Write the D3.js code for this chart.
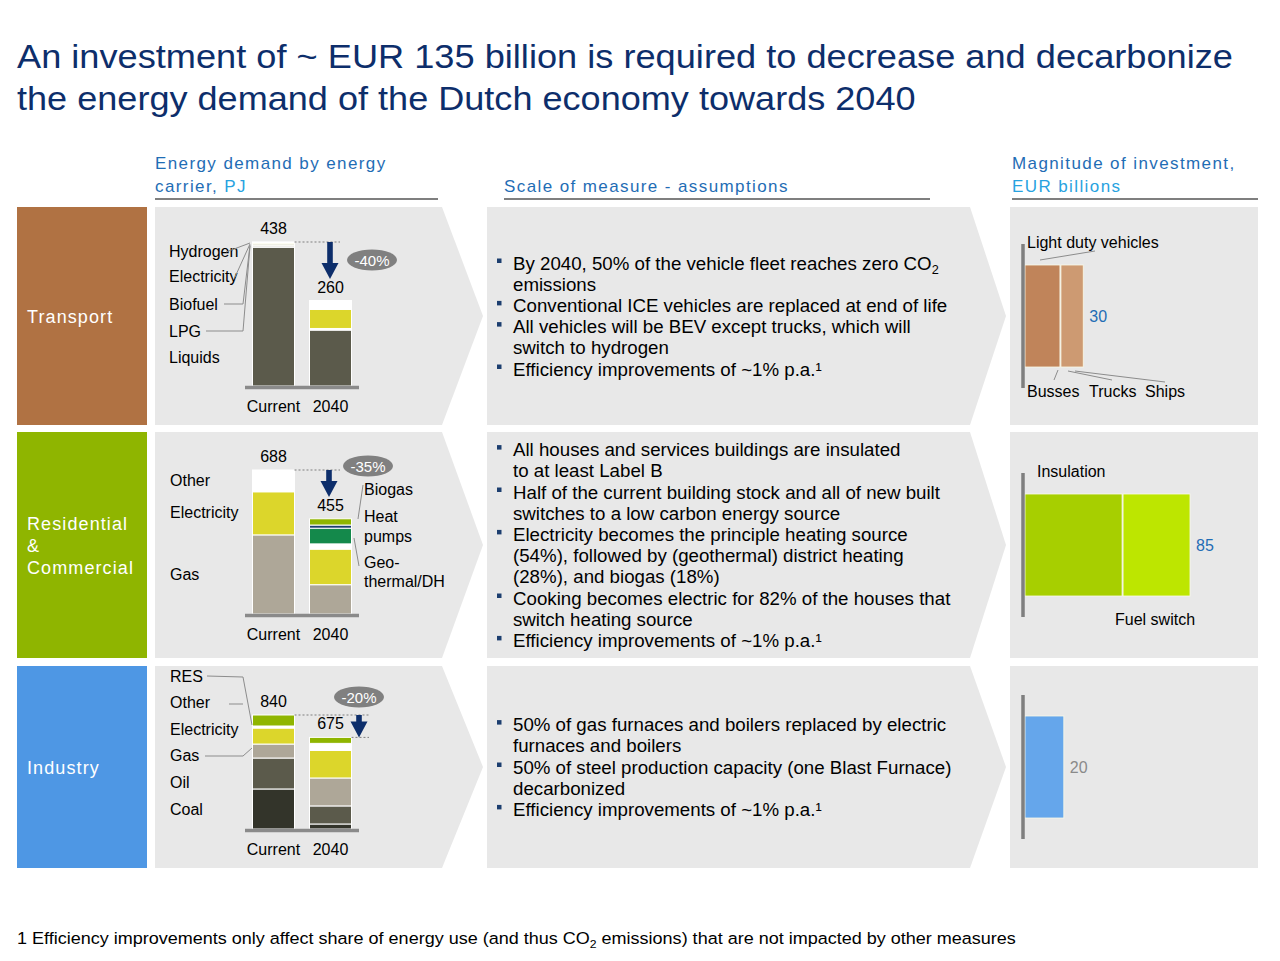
<!DOCTYPE html>
<html>
<head>
<meta charset="utf-8">
<script src="https://cdnjs.cloudflare.com/ajax/libs/d3/7.8.5/d3.min.js"></script>
<style>
body { margin: 0; background: #fff; }
text { font-family: "Liberation Sans", Arial, Helvetica, sans-serif; }
</style>
</head>
<body>
<div id="graph"></div>
<script>
//data
var sectors = ["Transport", "Residential & Commercial", "Industry"];
var periods = ["Current", "2040"];

var transportCarriers = ["Liquids", "LPG", "Biofuel", "Electricity", "Hydrogen"];
var transportCurrent = [422, 4, 8, 3, 1];
var transport2040 = [170, 3, 2, 58, 27];

var residentialCarriers = ["Gas", "Electricity", "Other", "Geo-thermal/DH", "Heat pumps", "Biogas"];
var residentialCurrent = [378, 206, 104, 0, 0, 0];
var residential2040 = [140, 170, 25, 75, 15, 30];

var industryCarriers = ["Coal", "Oil", "Gas", "Electricity", "Other", "RES"];
var industryCurrent = [295, 228, 103, 118, 15, 81];
var industry2040 = [37, 133, 206, 203, 52, 44];

var changeLabels = ["-40%", "-35%", "-20%"];

var transportInvestParts = ["Light duty vehicles", "Busses, Trucks, Ships"];
var transportInvest = [18, 12];
var residentialInvestParts = ["Insulation", "Fuel switch"];
var residentialInvest = [50, 35];
var industryInvestParts = ["Industry"];
var industryInvest = [20];

var transportBullets = [
    ["By 2040, 50% of the vehicle fleet reaches zero CO2", "emissions"],
    ["Conventional ICE vehicles are replaced at end of life"],
    ["All vehicles will be BEV except trucks, which will", "switch to hydrogen"],
    ["Efficiency improvements of ~1% p.a.\u00b9"]
];
var residentialBullets = [
    ["All houses and services buildings are insulated", "to at least Label B"],
    ["Half of the current building stock and all of new built", "switches to a low carbon energy source"],
    ["Electricity becomes the principle heating source", "(54%), followed by (geothermal) district heating", "(28%), and biogas (18%)"],
    ["Cooking becomes electric for 82% of the houses that", "switch heating source"],
    ["Efficiency improvements of ~1% p.a.\u00b9"]
];
var industryBullets = [
    ["50% of gas furnaces and boilers replaced by electric", "furnaces and boilers"],
    ["50% of steel production capacity (one Blast Furnace)", "decarbonized"],
    ["Efficiency improvements of ~1% p.a.\u00b9"]
];

//layout
var width = 1280;
var height = 961;
var rowTop = [207, 432, 666];
var rowBottom = [425, 658, 868];
var chartBase = [386, 614, 829];
var chartMaxHeight = [144, 144, 114];
var sectorColors = ["#b07243", "#8fb500", "#4e97e4"];
var panelColor = "#e8e8e8";
var navy = "#0d2e6b";
var blue = "#1f6db5";
var lightBlue = "#28a2df";

var carrierColors = {
    "Liquids": "#5b5a4b", "LPG": "#9b998b", "Biofuel": "#efefe4", "Electricity": "#dcd62b",
    "Hydrogen": "#ffffff", "Gas": "#aea798", "Other": "#ffffff", "Geo-thermal/DH": "#14894b",
    "Heat pumps": "#1c3e6f", "Biogas": "#8fb500", "Coal": "#33342a", "Oil": "#5b5a4b", "RES": "#8fb500"
};

var svg = d3.select("#graph").append("svg")
    .attr("width", width)
    .attr("height", height);

// title (stretched to the width it has in the slide)
var titleLines = ["An investment of ~ EUR 135 billion is required to decrease and decarbonize",
    "the energy demand of the Dutch economy towards 2040"];
var titleWidths = [1216, 899];
svg.selectAll(".title")
    .data(titleLines)
    .enter().append("text")
    .attr("class", "title")
    .attr("font-size", 34)
    .attr("fill", navy)
    .text(function (d) { return d; })
    .attr("transform", function (d, i) {
        var len = this.getComputedTextLength();
        return "translate(17," + (68 + i * 42) + ") scale(" + (titleWidths[i] / len) + ",1)";
    });

// column headers
function header(x, x2, lines) {
    lines.forEach(function (parts, i) {
        var t = svg.append("text")
            .attr("x", x)
            .attr("y", 192 - (lines.length - 1 - i) * 23)
            .attr("font-size", 17)
            .attr("letter-spacing", 1.4);
        parts.forEach(function (p) {
            t.append("tspan").attr("fill", p[1]).text(p[0]);
        });
    });
    svg.append("line")
        .attr("x1", x).attr("x2", x2)
        .attr("y1", 199).attr("y2", 199)
        .attr("stroke", "#7f7f7f")
        .attr("stroke-width", 2);
}
header(155, 438, [[["Energy demand by energy", blue]], [["carrier, ", blue], ["PJ", lightBlue]]]);
header(504, 930, [[["Scale of measure - assumptions", blue]]]);
header(1012, 1258, [[["Magnitude of investment,", blue]], [["EUR billions", lightBlue]]]);

// row panels
rowTop.forEach(function (top, i) {
    var bottom = rowBottom[i];
    var mid = (top + bottom) / 2;
    svg.append("rect")
        .attr("x", 17).attr("y", top)
        .attr("width", 130).attr("height", bottom - top)
        .attr("fill", sectorColors[i]);
    svg.append("path")
        .attr("d", "M155," + top + "L442," + top + "L483," + mid + "L442," + bottom + "L155," + bottom + "Z")
        .attr("fill", panelColor);
    svg.append("path")
        .attr("d", "M487," + top + "L970," + top + "L1006," + mid + "L970," + bottom + "L487," + bottom + "Z")
        .attr("fill", panelColor);
    svg.append("rect")
        .attr("x", 1010).attr("y", top)
        .attr("width", 248).attr("height", bottom - top)
        .attr("fill", panelColor);

    // sector name
    var words = sectors[i] == "Residential & Commercial" ? ["Residential", "&", "Commercial"] : [sectors[i]];
    words.forEach(function (w, k) {
        svg.append("text")
            .attr("x", 27)
            .attr("y", mid + 7 + (k - (words.length - 1) / 2) * 22)
            .attr("font-size", 18)
            .attr("letter-spacing", 1.1)
            .attr("fill", "#fff")
            .text(w);
    });
});

function leader(points) {
    svg.append("path")
        .attr("d", d3.line()(points))
        .attr("fill", "none")
        .attr("stroke", "#8c8c8c")
        .attr("stroke-width", 1);
}

function label(x, y, str, anchor) {
    return svg.append("text")
        .attr("x", x).attr("y", y)
        .attr("font-size", 16)
        .attr("text-anchor", anchor || "start")
        .attr("fill", "#000")
        .text(str);
}

// energy demand stacked bars
function drawDemand(i, carriers, current, future, arrow) {
    var rows = periods.map(function (p, j) {
        var o = { period: p };
        carriers.forEach(function (c, k) { o[c] = (j == 0 ? current : future)[k]; });
        return o;
    });
    var series = d3.stack().keys(carriers)(rows);
    var totalNow = d3.sum(current);
    var totalLater = d3.sum(future);

    var x = d3.scaleBand().domain(periods).range([245, 359])
        .paddingInner(0.263).paddingOuter(0.1316);
    var y = d3.scaleLinear().domain([0, totalNow])
        .range([chartBase[i], chartBase[i] - chartMaxHeight[i]]);

    var g = svg.append("g");
    g.selectAll(".layer")
        .data(series)
        .enter().append("g")
        .attr("fill", function (d) { return carrierColors[d.key]; })
        .selectAll("rect")
        .data(function (d) { return d.filter(function (s) { return s[1] - s[0] > 0; }); })
        .enter().append("rect")
        .attr("x", function (d) { return x(d.data.period); })
        .attr("y", function (d) { return y(d[1]); })
        .attr("width", x.bandwidth())
        .attr("height", function (d) { return y(d[0]) - y(d[1]); })
        .attr("stroke", "#fff")
        .attr("stroke-width", 1);

    // base line
    g.append("line")
        .attr("x1", 245).attr("x2", 359)
        .attr("y1", y(0) + 1.5).attr("y2", y(0) + 1.5)
        .attr("stroke", "#8a8a8a")
        .attr("stroke-width", 3.5);

    // totals
    g.selectAll(".total")
        .data([totalNow, totalLater])
        .enter().append("text")
        .attr("x", function (d, j) { return x(periods[j]) + x.bandwidth() / 2; })
        .attr("y", function (d) { return y(d) - 8; })
        .attr("text-anchor", "middle")
        .attr("font-size", 16)
        .text(function (d) { return d; });

    // category axis labels
    g.selectAll(".period")
        .data(periods)
        .enter().append("text")
        .attr("x", function (d) { return x(d) + x.bandwidth() / 2; })
        .attr("y", y(0) + 26)
        .attr("text-anchor", "middle")
        .attr("font-size", 16)
        .text(function (d) { return d; });

    // dashed reference + arrow
    var top = y(totalNow);
    g.append("line")
        .attr("x1", x("Current") + x.bandwidth()).attr("x2", arrow.dashEnd)
        .attr("y1", top).attr("y2", top)
        .attr("stroke", "#7f7f7f").attr("stroke-dasharray", "2,2");
    if (arrow.toTotal) {
        g.append("line")
            .attr("x1", x("2040") + x.bandwidth()).attr("x2", arrow.dashEnd)
            .attr("y1", y(totalLater)).attr("y2", y(totalLater))
            .attr("stroke", "#7f7f7f").attr("stroke-dasharray", "2,2");
    }
    var tip = arrow.toTotal ? y(totalLater) : top + arrow.len;
    var head = 16;
    var cx = arrow.x;
    g.append("path")
        .attr("d", "M" + (cx - 2.8) + "," + top + "L" + (cx + 2.8) + "," + top +
            "L" + (cx + 2.8) + "," + (tip - head) + "L" + (cx + 8.5) + "," + (tip - head) +
            "L" + cx + "," + tip + "L" + (cx - 8.5) + "," + (tip - head) +
            "L" + (cx - 2.8) + "," + (tip - head) + "Z")
        .attr("fill", navy);

    g.append("ellipse")
        .attr("cx", arrow.bx).attr("cy", arrow.by)
        .attr("rx", 25).attr("ry", 10.5)
        .attr("fill", "#808080");
    g.append("text")
        .attr("x", arrow.bx).attr("y", arrow.by + 5.5)
        .attr("text-anchor", "middle")
        .attr("font-size", 15)
        .attr("fill", "#fff")
        .text(changeLabels[i]);
}

drawDemand(0, transportCarriers, transportCurrent, transport2040,
    { x: 330, len: 37, dashEnd: 340, bx: 372, by: 260 });
drawDemand(1, residentialCarriers, residentialCurrent, residential2040,
    { x: 329, len: 27, dashEnd: 340, bx: 368, by: 466 });
drawDemand(2, industryCarriers, industryCurrent, industry2040,
    { x: 359, toTotal: true, dashEnd: 369, bx: 359, by: 697 });

// carrier labels, transport
var transportLabelY = [363, 337, 310, 282, 257];
transportCarriers.forEach(function (c, k) { label(169, transportLabelY[k], c); });
leader([[226, 252], [250, 243]]);
leader([[235, 277], [250, 244]]);
leader([[224, 304], [243, 304], [250, 245]]);
leader([[206, 331], [243, 331], [250, 246]]);

// carrier labels, residential
label(170, 486, "Other");
label(170, 518, "Electricity");
label(170, 580, "Gas");
label(364, 495, "Biogas");
label(364, 522, "Heat");
label(364, 542, "pumps");
label(364, 568, "Geo-");
label(364, 587, "thermal/DH");
leader([[363, 485], [358, 519]]);
leader([[354, 538], [359, 566]]);

// carrier labels, industry
var industryLabelY = [815, 788, 761, 735, 708, 682];
industryCarriers.forEach(function (c, k) { label(170, industryLabelY[k], c); });
leader([[207, 676], [243, 677], [252, 725]]);
leader([[229, 704], [243, 704]]);
leader([[205, 756], [243, 756], [252, 748]]);

// bullets
function addRich(t, str) {
    var parts = str.split("CO2");
    parts.forEach(function (p, k) {
        var s = t.append("tspan").text(p);
        if (k > 0) s.attr("dy", -4);
        if (k < parts.length - 1) {
            t.append("tspan").text("CO");
            t.append("tspan").attr("dy", 4).attr("font-size", "0.68em").text("2");
        }
    });
}

function drawBullets(i, bullets) {
    var mid = (rowTop[i] + rowBottom[i]) / 2;
    var lineH = 21.2;
    var n = d3.sum(bullets, function (b) { return b.length; });
    var y0 = mid - (n - 1) * lineH / 2 + 6.5;
    var line = 0;
    bullets.forEach(function (b) {
        svg.append("rect")
            .attr("x", 497).attr("y", y0 + line * lineH - 11)
            .attr("width", 4.5).attr("height", 4.5)
            .attr("fill", "#1c3e6f");
        b.forEach(function (str) {
            var t = svg.append("text")
                .attr("x", 513)
                .attr("y", y0 + line * lineH)
                .attr("font-size", 18.7)
                .attr("fill", "#000");
            addRich(t, str);
            line++;
        });
    });
}
drawBullets(0, transportBullets);
drawBullets(1, residentialBullets);
drawBullets(2, industryBullets);

// investment bars
var investX = d3.scaleLinear().domain([0, 85]).range([1025, 1190]);
var investColors = [["#c0845a", "#cd9a72"], ["#a7cf00", "#bde600"], ["#65a6eb"]];
var investValueColors = [blue, blue, "#8a8a8a"];

function drawInvest(i, parts, values) {
    var mid = (rowTop[i] + rowBottom[i]) / 2;
    var cum = d3.cumsum(values);
    var total = d3.sum(values);
    svg.append("g").selectAll("rect")
        .data(values)
        .enter().append("rect")
        .attr("x", function (d, k) { return investX(cum[k] - d) + (k > 0 ? 1 : 0); })
        .attr("y", mid - 51)
        .attr("width", function (d, k) { return investX(d) - investX(0) - (k > 0 ? 1 : 0); })
        .attr("height", 102)
        .attr("fill", function (d, k) { return investColors[i][k]; })
        .attr("stroke", "#fbfbe8")
        .attr("stroke-width", 0.8);
    svg.append("line")
        .attr("x1", 1023).attr("x2", 1023)
        .attr("y1", mid - 72).attr("y2", mid + 72)
        .attr("stroke", "#7f7f7f")
        .attr("stroke-width", 3.5);
    svg.append("text")
        .attr("x", investX(total) + 6)
        .attr("y", mid + 6)
        .attr("font-size", 16)
        .attr("fill", investValueColors[i])
        .text(total);
}
drawInvest(0, transportInvestParts, transportInvest);
drawInvest(1, residentialInvestParts, residentialInvest);
drawInvest(2, industryInvestParts, industryInvest);

label(1027, 248, transportInvestParts[0]);
transportInvestParts[1].split(", ").forEach(function (w, k) {
    label([1027, 1089, 1145][k], 397, w);
});
leader([[1040, 260], [1095, 251]]);
leader([[1058, 370], [1054, 380]]);
leader([[1068, 371], [1112, 380]]);
leader([[1075, 371], [1165, 382]]);
label(1037, 477, residentialInvestParts[0]);
label(1115, 625, residentialInvestParts[1]);

// footnote
var foot = svg.append("text")
    .attr("font-size", 17)
    .attr("fill", "#000");
addRich(foot, "1 Efficiency improvements only affect share of energy use (and thus CO2 emissions) that are not impacted by other measures");
var footLen = foot.node().getComputedTextLength();
foot.attr("transform", "translate(17,944) scale(" + (1000 / footLen) + ",1)");
</script>
</body>
</html>
